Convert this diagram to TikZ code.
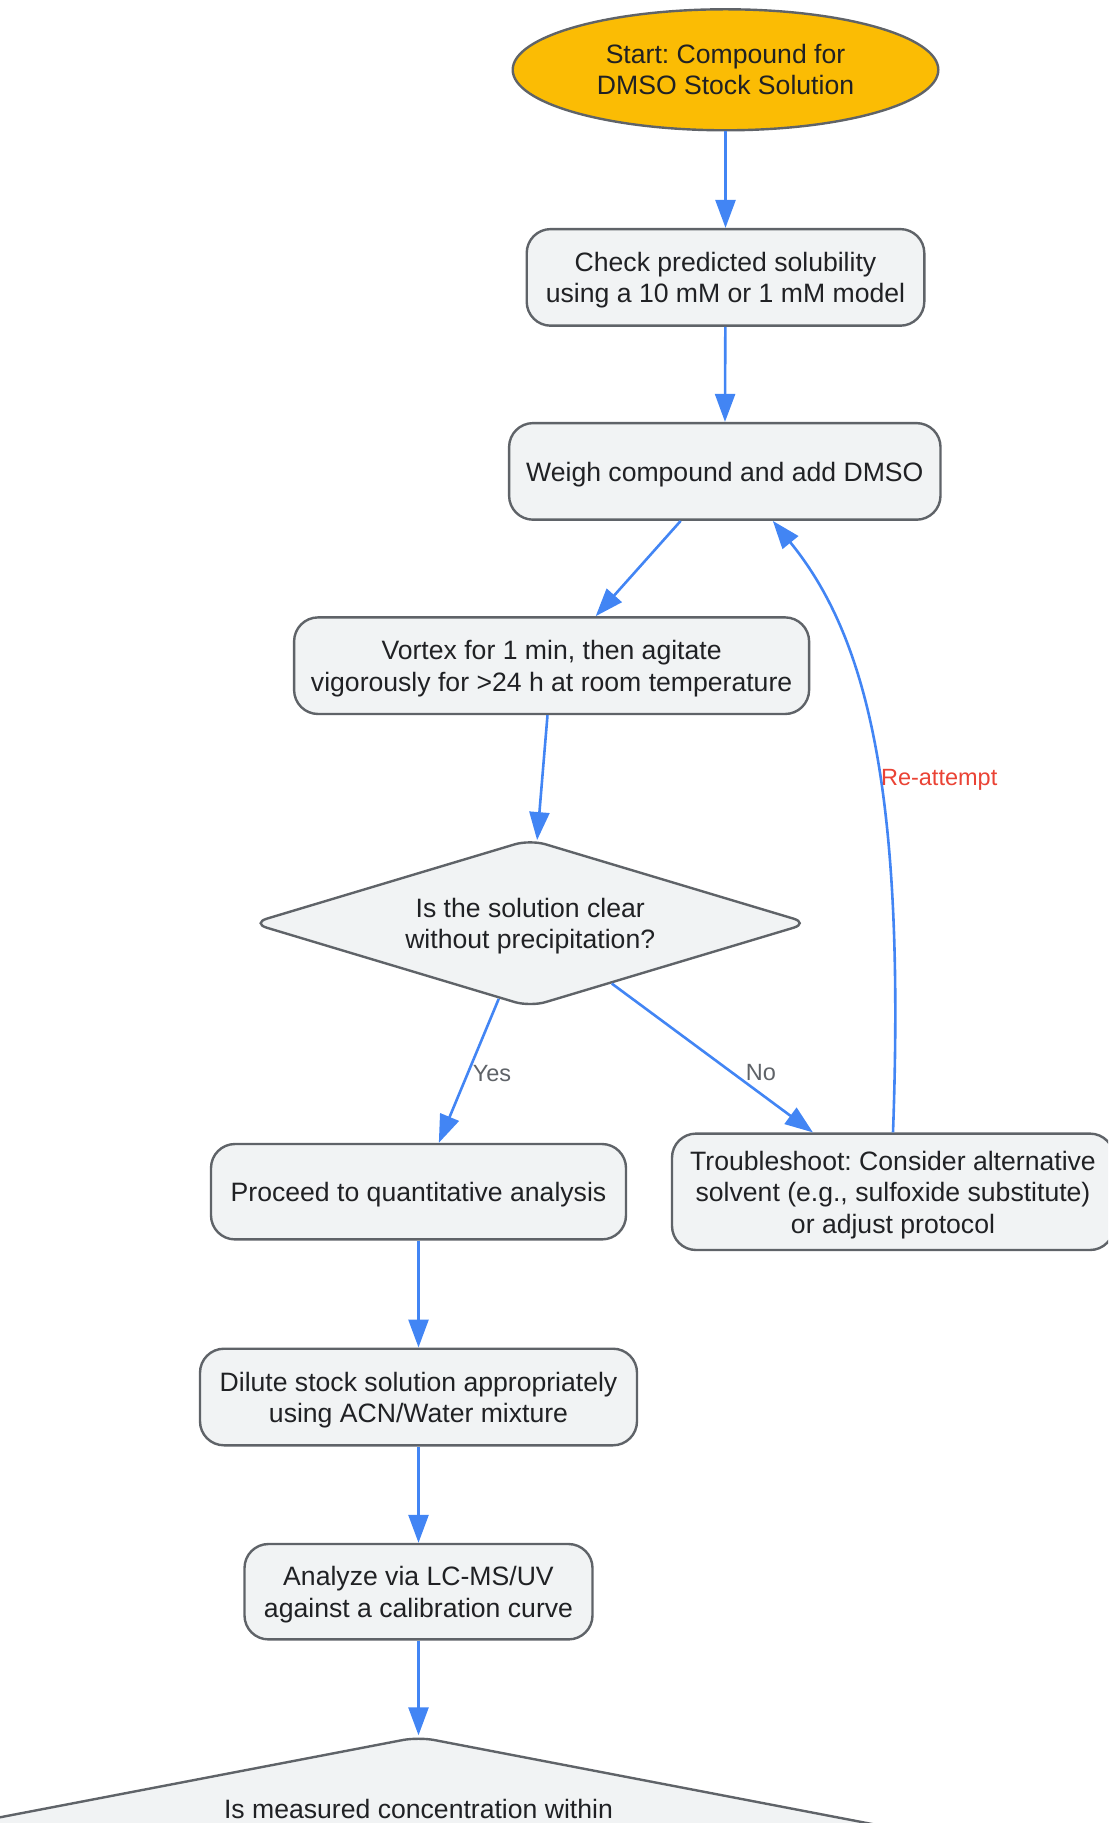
\documentclass[tikz,border=0pt]{standalone}
\usepackage{fontspec}
\setmainfont{Liberation Sans}
\frenchspacing
\usetikzlibrary{shapes.geometric,arrows.meta}
\definecolor{nodefill}{HTML}{F1F3F4}
\definecolor{nodeline}{HTML}{5F6368}
\definecolor{nodetext}{HTML}{202124}
\definecolor{startfill}{HTML}{FBBC04}
\definecolor{edgeblue}{HTML}{4285F4}
\definecolor{retryred}{HTML}{EA4335}
\newcommand{\toprow}{\rule{0pt}{12.6pt}}

\begin{document}
\begin{tikzpicture}[x=0.5pt,y=-0.5pt,
  box/.style={draw=nodeline,line width=1.2pt,fill=nodefill,text=nodetext,rounded corners=12pt,
    align=center,inner sep=2pt,minimum height=48.3pt,font=\fontsize{13.3}{15.7}\selectfont,
    execute at begin node={\rule{0pt}{12.6pt}}},
  startnode/.style={box,ellipse,fill=startfill,sharp corners},
  decision/.style={box,diamond,inner sep=0pt,rounded corners=8pt},
  flow/.style={edgeblue,line width=1.3pt,-{Triangle[length=14pt,width=10pt]}},
  edgelabel/.style={font=\fontsize{11.75}{14}\selectfont,inner sep=2pt,text=nodeline}]
  \useasboundingbox (0,0) rectangle (1108,1823);
  \clip (0,0) rectangle (1108,1823);
  \node[startnode,minimum width=212.8pt,minimum height=60.5pt] (start) at (725.5,69.8) {Start: Compound for\\DMSO Stock Solution};
  \node[box,minimum width=198.8pt] (check) at (725.5,277.4) {\toprow Check predicted solubility\\using a 10 mM or 1 mM model};
  \node[box,minimum width=215.7pt] (weigh) at (724.8,471.4) {Weigh compound and add DMSO};
  \node[box,minimum width=257.5pt] (vortex) at (551.6,665.7) {\toprow Vortex for 1 min, then agitate\\vigorously for >24 h at room temperature};
  \node[decision,aspect=3.32,minimum width=279pt,minimum height=84pt] (clear) at (530.2,923.2) {\toprow Is the solution clear\\without precipitation?};
  \node[box,minimum width=207.5pt,minimum height=47.7pt] (proceed) at (418.5,1191.7) {Proceed to quantitative analysis};
  \node[box,minimum width=221pt,minimum height=58.2pt] (trouble) at (893,1191.8) {\toprow Troubleshoot: Consider alternative\\solvent (e.g., sulfoxide substitute)\\or adjust protocol};
  \node[box,minimum width=218.5pt] (dilute) at (418.5,1397) {\toprow Dilute stock solution appropriately\\using ACN/Water mixture};
  \node[box,minimum width=174pt,minimum height=47.7pt] (analyze) at (418.5,1591.7) {\toprow Analyze via LC-MS/UV\\against a calibration curve};
  \node[decision,aspect=5.32,minimum width=540pt,minimum height=104pt] (verify) at (418.5,1840.5) {};
  \node[text=nodetext,font=\fontsize{13.3}{15.7}\selectfont] (verifytext) at (418.5,1809) {Is measured concentration within};
  \draw[flow] (start) -- (check);
  \draw[flow] (check) -- (weigh);
  \draw[flow] (weigh) -- (vortex);
  \draw[flow] (vortex) -- (clear);
  \draw[flow] (clear) -- node[edgelabel,anchor=west,pos=0.52] {Yes} (proceed);
  \draw[flow] (clear) -- node[edgelabel,anchor=west,pos=0.6,xshift=4pt] {No} (trouble);
  \draw[flow] (trouble.north) .. controls (905,800) and (870,640) .. ([xshift=24pt]weigh.south)
    node[edgelabel,text=retryred,anchor=west,pos=0.445,xshift=-2pt] {Re-attempt};
  \draw[flow] (proceed) -- (dilute);
  \draw[flow] (dilute) -- (analyze);
  \draw[flow] (analyze) -- (verify);
\end{tikzpicture}
\end{document}
